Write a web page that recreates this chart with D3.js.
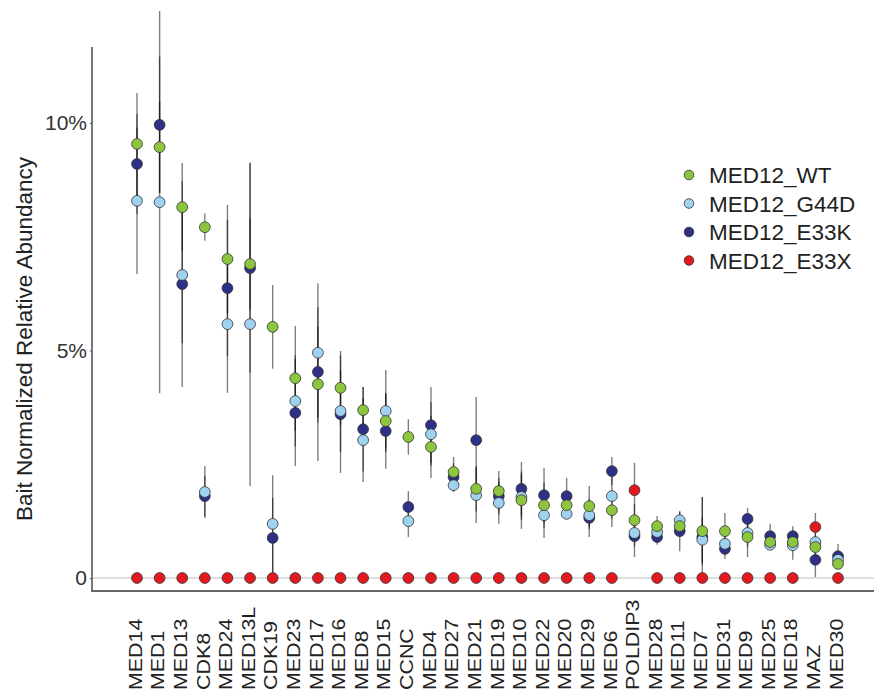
<!DOCTYPE html>
<html><head><meta charset="utf-8">
<script src="https://cdn.jsdelivr.net/npm/d3@7"></script>
<style>body{margin:0;background:#fff}svg{display:block}text{font-family:"Liberation Sans",Arial,sans-serif}</style>
</head><body><svg id="c" width="874" height="691"></svg>
<script>
const categories = ["MED14","MED1","MED13","CDK8","MED24","MED13L","CDK19","MED23","MED17","MED16","MED8","MED15","CCNC","MED4","MED27","MED21","MED19","MED10","MED22","MED20","MED29","MED6","POLDIP3","MED28","MED11","MED7","MED31","MED9","MED25","MED18","MAZ","MED30"];
const seriesNames = ["MED12_WT","MED12_G44D","MED12_E33K","MED12_E33X"];
const valWT   = [9.54,9.47,8.15,7.71,7.01,6.90,5.52,4.39,4.26,4.18,3.69,3.45,3.10,2.88,2.33,1.96,1.91,1.71,1.60,1.60,1.58,1.49,1.27,1.14,1.14,1.03,1.03,0.90,0.79,0.79,0.68,0.31];
const valG44D = [8.29,8.26,6.66,1.89,5.58,5.58,1.19,3.89,4.95,3.67,3.03,3.67,1.25,3.16,2.04,1.82,1.65,1.78,1.38,1.41,1.38,1.80,0.99,1.01,1.27,0.84,0.75,0.99,0.73,0.72,0.79,0.40];
const valE33K = [9.10,9.96,6.46,1.80,6.37,6.81,0.88,3.63,4.53,3.60,3.27,3.23,1.56,3.36,2.22,3.03,1.80,1.96,1.82,1.80,1.32,2.35,0.92,0.90,1.03,0.90,0.64,1.30,0.92,0.92,0.40,0.48];
const valE33X = [0,0,0,0,0,0,0,0,0,0,0,0,0,0,0,0,0,0,0,0,0,0,1.93,0,0,0,0,0,0,0,1.12,0];
const errWT   = [1.12,1.0,0.97,0.3,1.19,1.0,0.92,1.15,1.69,0.81,0.51,0.6,0.39,0.68,0.33,0.5,0.44,0.63,0.5,0.3,0.44,0.37,0.35,0.22,0.2,0.75,0.4,0.44,0.1,0.2,0.2,0];
const errG44D = [1.61,4.2,1.5,0.57,1.51,3.56,1.07,1.0,1.53,0.9,0.92,0.9,0.35,0.7,0.15,0.61,0.46,0.5,0.5,0.1,0.3,0.5,0.3,0.15,0.18,0.5,0.2,0.3,0.07,0.32,0.2,0.1];
const errE33K = [1.1,1.5,2.26,0.45,1.5,2.3,0.88,1.17,1.0,1.29,0.93,0.83,0.35,0.84,0.3,0.95,0.4,0.59,0.6,0.4,0.42,0.31,0.46,0.17,0.44,0.88,0.22,0.24,0.27,0.22,0.38,0.27];
const errE33X = [0,0,0,0,0,0,0,0,0,0,0,0,0,0,0,0,0,0,0,0,0,0,0.6,0,0,0,0,0,0,0,0.31,0];
const yTicks = [0,5,10];
const yTickLabels = ["0","5%","10%"];
const colors = {"MED12_WT":"#8cc63e","MED12_G44D":"#9ed2f0","MED12_E33K":"#2e2f86","MED12_E33X":"#e3191f"};

const series = [
  {name:"MED12_E33K", vals:valE33K, errs:errE33K},
  {name:"MED12_G44D", vals:valG44D, errs:errG44D},
  {name:"MED12_WT", vals:valWT, errs:errWT},
  {name:"MED12_E33X", vals:valE33X, errs:errE33X}
];

const svg = d3.select("#c");
const x = d3.scalePoint().domain(categories).range([137, 838]);
const y = d3.scaleLinear().domain([0, 10]).range([578, 123]);

// zero gridline
svg.append("line").attr("x1",92).attr("x2",874).attr("y1",y(0)).attr("y2",y(0))
  .attr("stroke","#bdbdbd").attr("stroke-width",1);
// axes lines
svg.append("line").attr("x1",92).attr("x2",92).attr("y1",47).attr("y2",592)
  .attr("stroke","#555").attr("stroke-width",1.6);
svg.append("line").attr("x1",91).attr("x2",874).attr("y1",591).attr("y2",591)
  .attr("stroke","#666").attr("stroke-width",2);

// y axis ticks labels
const yAxis = d3.axisLeft(y).tickValues(yTicks).tickFormat((d,i)=>yTickLabels[i]).tickSize(2).tickPadding(3);
const ya = svg.append("g").attr("transform","translate(92,0)").call(yAxis);
ya.select(".domain").remove();
ya.selectAll("line").attr("stroke","#555");
ya.selectAll("text").attr("font-size",21).attr("fill","#333").style("font-family","Liberation Sans, Arial, sans-serif");

// y title
svg.append("text").attr("transform","translate(32,339) rotate(-90)")
  .attr("text-anchor","middle").attr("font-size",22.5).attr("fill","#222")
  .text("Bait Normalized Relative Abundancy");

// x labels
svg.append("g").selectAll("text").data(categories).join("text")
  .attr("transform",d=>`translate(${x(d)-2},690) rotate(-90) scale(1.15,1)`)
  .attr("dy","0.36em").attr("text-anchor","start")
  .attr("font-size",18.6).attr("fill","#222").text(d=>d);

// error bars
const eg = svg.append("g");
series.forEach(s=>{
  categories.forEach((c,i)=>{
    if (s.errs[i] > 0) {
      eg.append("line").attr("x1",x(c)).attr("x2",x(c))
        .attr("y1",y(Math.max(0,s.vals[i]-s.errs[i]))).attr("y2",y(s.vals[i]+s.errs[i]))
        .attr("stroke","#000").attr("stroke-opacity",0.5).attr("stroke-width",1.4);
    }
  });
});

// points
series.forEach(s=>{
  svg.append("g").selectAll("circle").data(categories).join("circle")
    .attr("cx",d=>x(d)).attr("cy",(d,i)=>y(s.vals[i])).attr("r",5.4)
    .attr("fill",colors[s.name]).attr("stroke","#333").attr("stroke-width",0.8);
});

// legend
const lg = svg.append("g");
seriesNames.forEach((n,i)=>{
  const yy = 175 + i*28.5;
  lg.append("circle").attr("cx",689).attr("cy",yy).attr("r",4.8)
    .attr("fill",colors[n]).attr("stroke","#333").attr("stroke-width",0.8);
  lg.append("text").attr("x",709).attr("y",yy).attr("dy","0.36em")
    .attr("font-size",22.5).attr("fill","#222").text(n);
});
</script></body></html>
